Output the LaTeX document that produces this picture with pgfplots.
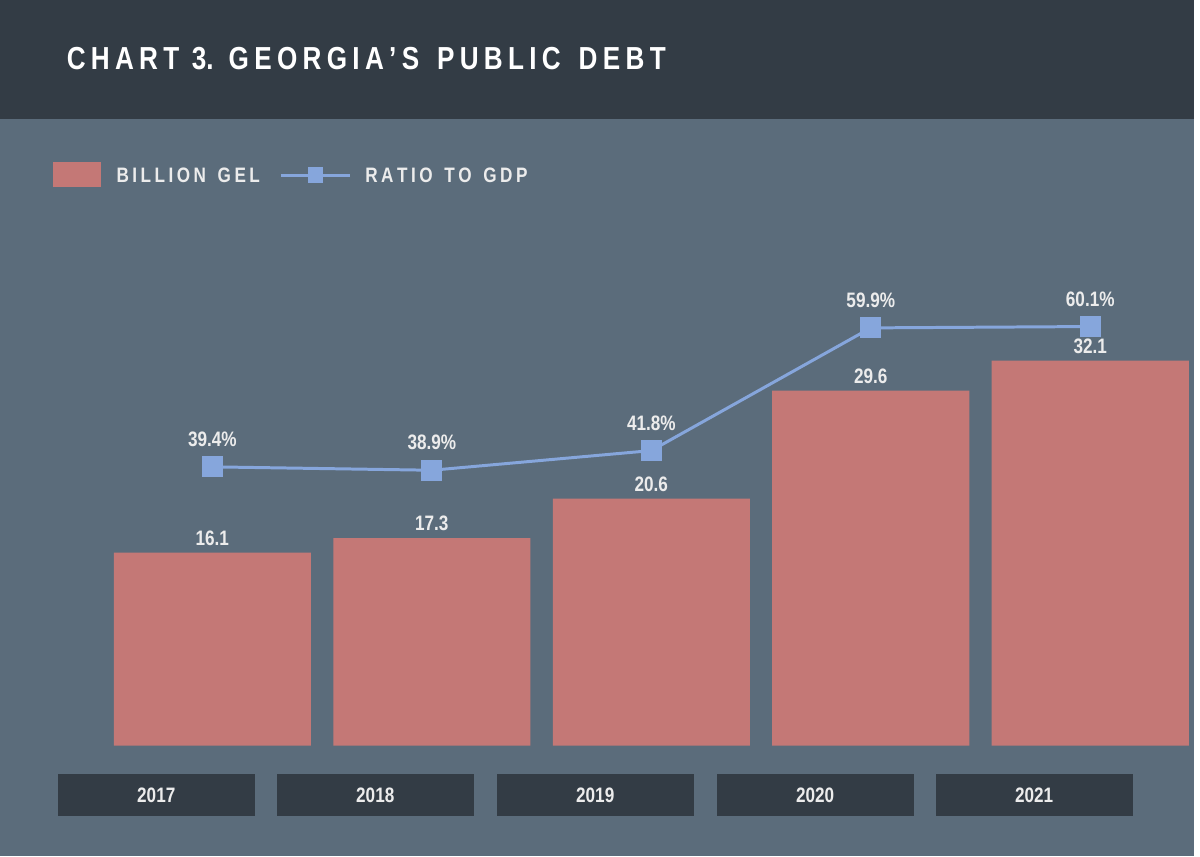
\documentclass[border=0pt]{standalone}
\usepackage{pgfplots}
\pgfplotsset{compat=1.18}
\usepackage{fontspec}
\setmainfont{Liberation Sans}[FakeStretch=0.82]
\definecolor{bgc}{HTML}{5B6C7B}
\definecolor{dark}{HTML}{333C45}
\definecolor{barc}{HTML}{C47876}
\definecolor{linec}{HTML}{86A6DC}
\definecolor{txt}{HTML}{ECECEC}
\begin{document}
\begin{tikzpicture}[x=0.5pt,y=0.5pt]
\fill[bgc] (0,0) rectangle (1200,860);
\fill[dark] (0,740) rectangle (1200,860);
\node[anchor=west,text=white,font=\bfseries\fontsize{16}{18}\selectfont] at (60,801) {C\,H\,A\,R\,T\, 3.\, G\,E\,O\,R\,G\,I\,A\,'\,S\,\, P\,U\,B\,L\,I\,C\,\, D\,E\,B\,T};
% legend
\fill[barc] (53,672) rectangle (101,697);
\node[anchor=west,text=txt,font=\bfseries\fontsize{10.5}{12}\selectfont] at (110,684) {B\,I\,L\,L\,I\,O\,N\,\, G\,E\,L};
\draw[linec,line width=1.5pt] (282,684) -- (352,684);
\fill[linec] (309,676) rectangle (325,692);
\node[anchor=west,text=txt,font=\bfseries\fontsize{10.5}{12}\selectfont] at (360,684) {R\,A\,T\,I\,O\,\, T\,O\,\, G\,D\,P};
% year boxes
\foreach \c/\y in {157/2017,377/2018,598/2019,819/2020,1039/2021}{
  \fill[dark] (\c-99,40) rectangle (\c+99,82);
  \node[text=txt,font=\bfseries\fontsize{10.5}{12}\selectfont] at (\c,61) {\y};
}
\begin{axis}[at={(46.75,92)},anchor=south west,scale only axis,
  width=551.25pt,height=269pt,xmin=-0.5,xmax=4.5,ymin=0,ymax=44.65,
  axis line style={draw=none},ticks=none,clip=false]
\addplot[ybar,bar width=99pt,fill=barc,draw=none,
  nodes near coords,nodes near coords style={text=txt,font=\bfseries\fontsize{10.5}{12}\selectfont,/pgf/number format/fixed,/pgf/number format/precision=1,/pgf/number format/fixed zerofill,/pgf/number format/assume math mode=true}]
 coordinates {(0,16.1)(1,17.3)(2,20.6)(3,29.6)(4,32.1)};
\end{axis}
\begin{axis}[at={(46.75,92)},anchor=south west,scale only axis,
  width=551.25pt,height=269pt,xmin=-0.5,xmax=4.5,ymin=-8.81,ymax=70.19,
  axis line style={draw=none},ticks=none,clip=false]
\addplot[linec,line width=1.5pt,mark=square*,mark size=4.5pt,
  nodes near coords={\pgfmathprintnumber{\pgfplotspointmeta}\%},
  nodes near coords style={text=txt,font=\bfseries\fontsize{10.5}{12}\selectfont,yshift=6pt,/pgf/number format/fixed,/pgf/number format/precision=1,/pgf/number format/fixed zerofill,/pgf/number format/assume math mode=true}]
 coordinates {(0,39.4)(1,38.9)(2,41.8)(3,59.9)(4,60.1)};
\end{axis}
\end{tikzpicture}
\end{document}
